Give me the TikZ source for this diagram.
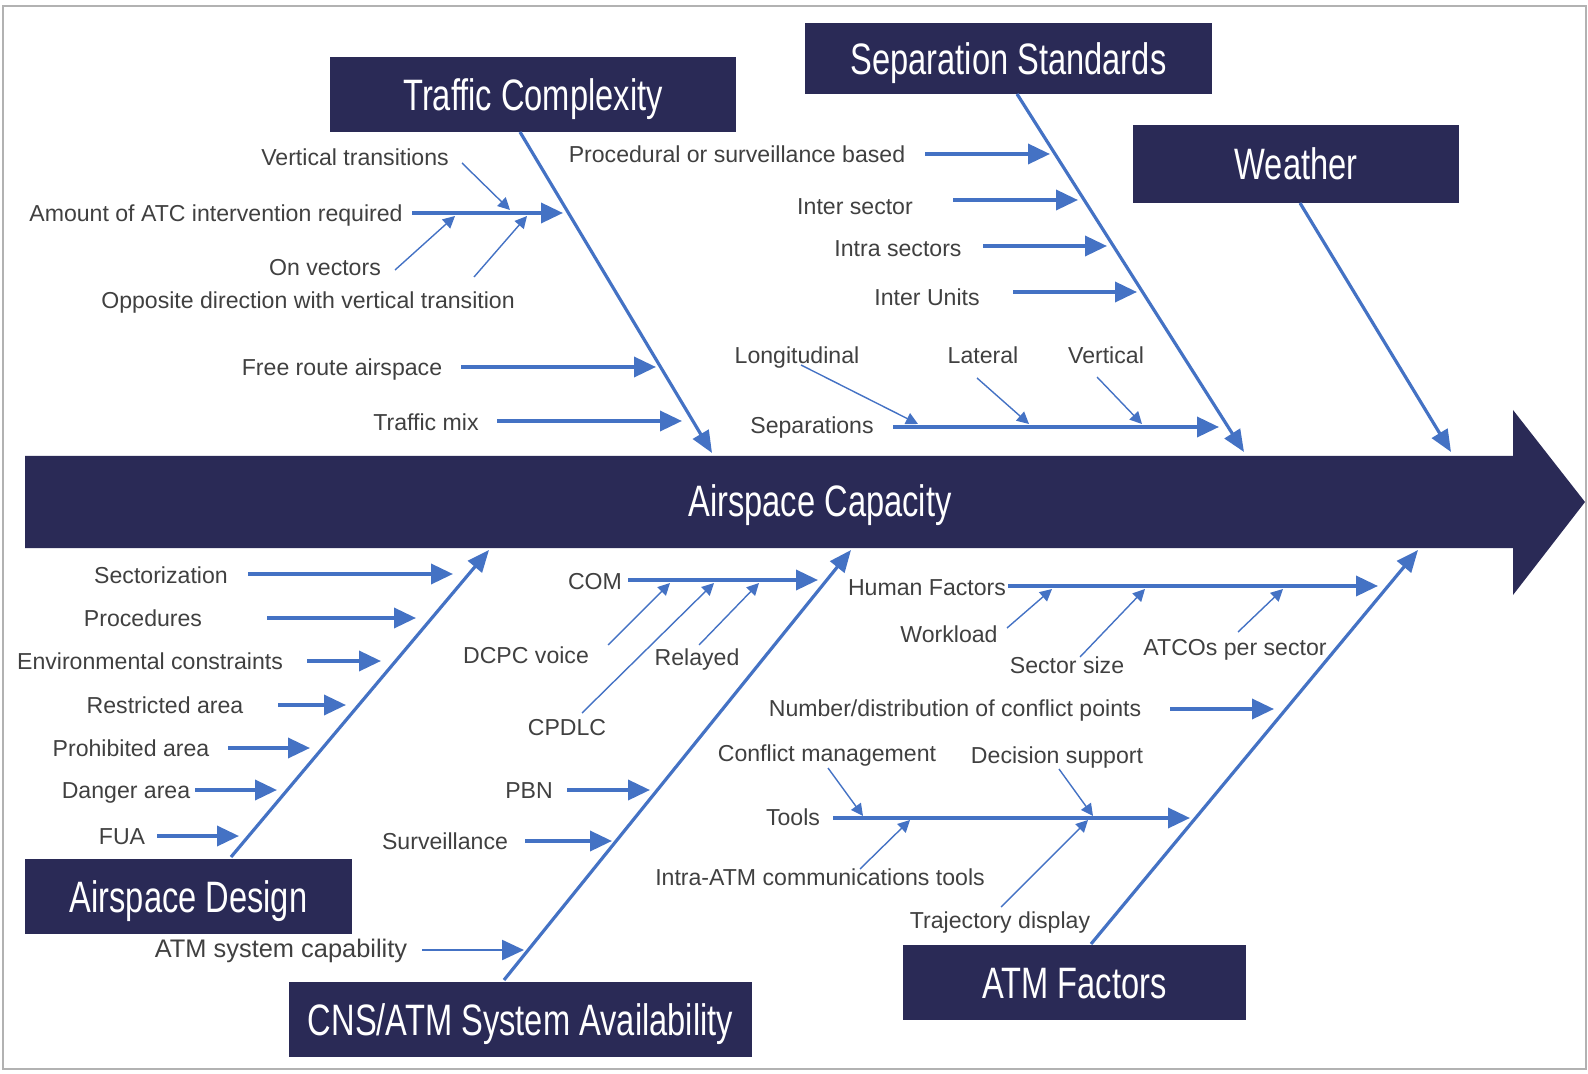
\documentclass[tikz,border=0pt]{standalone}
\usepackage{fontspec}
\setmainfont{Liberation Sans}
\newfontfamily\titlefont[FakeStretch=0.742]{Liberation Sans}
\usetikzlibrary{arrows.meta}
\definecolor{navy}{RGB}{42,42,86}
\definecolor{fishblue}{RGB}{68,114,196}
\definecolor{lblgray}{RGB}{64,64,64}
\begin{document}
\begin{tikzpicture}[x=0.5pt,y=-0.5pt,
  lbl/.style={font=\fontsize{11.55}{13}\selectfont, text=lblgray, inner sep=0pt, text height=8.2pt, text depth=0pt},
  ttl/.style={fill=navy, text=white, font=\titlefont\fontsize{22}{24}\selectfont, inner sep=0pt, text height=15.7pt, text depth=0pt},
  ttltext/.style={text=white, font=\titlefont\fontsize{22}{24}\selectfont, inner sep=0pt, text height=15.7pt, text depth=0pt},
  bone/.style={draw=fishblue, line width=1.6pt, -{Triangle[length=11pt,width=9pt]}},
  thk/.style={draw=fishblue, line width=1.8pt, -{Triangle[length=11pt,width=10pt]}},
  thn/.style={draw=fishblue, line width=0.7pt, -{Triangle[length=6pt,width=6pt]}},
]
\useasboundingbox (0,0) rectangle (1588,1074);
\draw[gray!60, line width=1pt] (3,6) rectangle (1586,1069);

% main arrow
\fill[navy] (25,456) -- (1513,456) -- (1513,410) -- (1585,502) -- (1513,595) -- (1513,548) -- (25,548) -- cycle;
\node[ttltext] (cap) at (820,501) {Airspace Capacity};

% category boxes
\node[ttl, minimum width=203pt, minimum height=37.5pt] (tc) at (533,94.5) {Traffic Complexity};
\node[ttl, minimum width=203.5pt, minimum height=35.5pt] (ss) at (1008.5,58.5) {Separation Standards};
\node[ttl, minimum width=163pt, minimum height=39pt] (wx) at (1296,164) {Weather};
\node[ttl, minimum width=163.5pt, minimum height=37.5pt] (ad) at (188.5,896.5) {Airspace Design};
\node[ttl, minimum width=231.5pt, minimum height=37.5pt] (cns) at (520.5,1019.5) {CNS/ATM System Availability};
\node[ttl, minimum width=171.5pt, minimum height=37.5pt] (atm) at (1074.5,982.5) {ATM Factors};

% labels - top
\node[lbl] (vt) at (355,157) {Vertical transitions};
\node[lbl] (amt) at (216,213) {Amount of ATC intervention required};
\node[lbl] (onv) at (325,267) {On vectors};
\node[lbl] (opp) at (308,300) {Opposite direction with vertical transition};
\node[lbl] (fra) at (342,367) {Free route airspace};
\node[lbl] (mix) at (426,422) {Traffic mix};
\node[lbl] (psb) at (737,154) {Procedural or surveillance based};
\node[lbl] (isec) at (855,206) {Inter sector};
\node[lbl] (intra) at (898,248) {Intra sectors};
\node[lbl] (iu) at (927,297) {Inter Units};
\node[lbl] (lon) at (797,355) {Longitudinal};
\node[lbl] (lat) at (983,355) {Lateral};
\node[lbl] (ver) at (1106,355) {Vertical};
\node[lbl] (sep) at (812,425) {Separations};
% labels - bottom
\node[lbl] (sect) at (161,575) {Sectorization};
\node[lbl] (proc) at (143,618) {Procedures};
\node[lbl] (env) at (150,661) {Environmental constraints};
\node[lbl] (restr) at (165,705) {Restricted area};
\node[lbl] (proh) at (131,748) {Prohibited area};
\node[lbl] (dang) at (126,790) {Danger area};
\node[lbl] (fua) at (122,836) {FUA};
\node[lbl] (com) at (595,581) {COM};
\node[lbl] (dcpc) at (526,655) {DCPC voice};
\node[lbl] (cpdlc) at (567,727) {CPDLC};
\node[lbl] (rel) at (697,657) {Relayed};
\node[lbl] (pbn) at (529,790) {PBN};
\node[lbl] (surv) at (445,841) {Surveillance};
\node[lbl, font=\fontsize{12.7}{14}\selectfont, text height=9pt] (atmsys) at (281,948) {ATM system capability};
\node[lbl] (hf) at (927,587) {Human Factors};
\node[lbl] (wl) at (949,634) {Workload};
\node[lbl] (ssz) at (1067,665) {Sector size};
\node[lbl] (atco) at (1235,647) {ATCOs per sector};
\node[lbl] (ndc) at (955,708) {Number/distribution of conflict points};
\node[lbl] (cm) at (827,753) {Conflict management};
\node[lbl] (ds) at (1057,755) {Decision support};
\node[lbl] (tools) at (793,817) {Tools};
\node[lbl] (iatm) at (820,877) {Intra-ATM communications tools};
\node[lbl] (traj) at (1000,920) {Trajectory display};

% coordinates - bones
\coordinate (tcS) at (520,132);  \coordinate (tcE) at (712,453);
\coordinate (ssS) at (1017,94);  \coordinate (ssE) at (1244,452);
\coordinate (wxS) at (1300,203); \coordinate (wxE) at (1451,452);
\coordinate (adS) at (231,857);  \coordinate (adE) at (489,550);
\coordinate (cnsS) at (504,980); \coordinate (cnsE) at (851,550);
\coordinate (atmS) at (1091,944); \coordinate (atmE) at (1418,550);

\draw[bone] (tcS) -- (tcE);
\draw[bone] (ssS) -- (ssE);
\draw[bone] (wxS) -- (wxE);
\draw[bone] (adS) -- (adE);
\draw[bone] (cnsS) -- (cnsE);
\draw[bone] (atmS) -- (atmE);

% traffic complexity
\coordinate (a1) at (412,213); \coordinate (b1) at (563,213);
\coordinate (a2) at (461,367); \coordinate (b2) at (656,367);
\coordinate (a3) at (497,421); \coordinate (b3) at (682,421);
\draw[thk] (a1) -- (b1);
\draw[thk] (a2) -- (b2);
\draw[thk] (a3) -- (b3);
\coordinate (t1a) at (462,163); \coordinate (t1b) at (510,210);
\coordinate (t2a) at (395,270); \coordinate (t2b) at (455,216);
\coordinate (t3a) at (474,277); \coordinate (t3b) at (527,216);
\draw[thn] (t1a) -- (t1b);
\draw[thn] (t2a) -- (t2b);
\draw[thn] (t3a) -- (t3b);

% separation standards
\coordinate (a4) at (925,154); \coordinate (b4) at (1050,154);
\coordinate (a5) at (953,200); \coordinate (b5) at (1078,200);
\coordinate (a6) at (983,246); \coordinate (b6) at (1107,246);
\coordinate (a7) at (1013,292); \coordinate (b7) at (1137,292);
\coordinate (a8) at (893,427); \coordinate (b8) at (1219,427);
\draw[thk] (a4) -- (b4);
\draw[thk] (a5) -- (b5);
\draw[thk] (a6) -- (b6);
\draw[thk] (a7) -- (b7);
\draw[thk] (a8) -- (b8);
\coordinate (t4a) at (801,365); \coordinate (t4b) at (918,424);
\coordinate (t5a) at (977,378); \coordinate (t5b) at (1029,424);
\coordinate (t6a) at (1097,377); \coordinate (t6b) at (1142,424);
\draw[thn] (t4a) -- (t4b);
\draw[thn] (t5a) -- (t5b);
\draw[thn] (t6a) -- (t6b);

% airspace design
\coordinate (a9) at (248,574); \coordinate (b9) at (453,574);
\coordinate (a10) at (267,618); \coordinate (b10) at (416,618);
\coordinate (a11) at (307,661); \coordinate (b11) at (381,661);
\coordinate (a12) at (278,705); \coordinate (b12) at (346,705);
\coordinate (a13) at (228,748); \coordinate (b13) at (310,748);
\coordinate (a14) at (195,790); \coordinate (b14) at (277,790);
\coordinate (a15) at (157,836); \coordinate (b15) at (239,836);
\draw[thk] (a9) -- (b9);
\draw[thk] (a10) -- (b10);
\draw[thk] (a11) -- (b11);
\draw[thk] (a12) -- (b12);
\draw[thk] (a13) -- (b13);
\draw[thk] (a14) -- (b14);
\draw[thk] (a15) -- (b15);

% CNS/ATM
\coordinate (a16) at (628,580); \coordinate (b16) at (818,580);
\coordinate (a17) at (567,790); \coordinate (b17) at (650,790);
\coordinate (a18) at (525,841); \coordinate (b18) at (612,841);
\coordinate (a19) at (422,950); \coordinate (b19) at (524,950);
\draw[thk] (a16) -- (b16);
\draw[thk] (a17) -- (b17);
\draw[thk] (a18) -- (b18);
\draw[thk, line width=1.2pt] (a19) -- (b19);
\coordinate (t7a) at (608,645); \coordinate (t7b) at (670,583);
\coordinate (t8a) at (582,713); \coordinate (t8b) at (714,583);
\coordinate (t9a) at (699,645); \coordinate (t9b) at (759,583);
\draw[thn] (t7a) -- (t7b);
\draw[thn] (t8a) -- (t8b);
\draw[thn] (t9a) -- (t9b);

% ATM factors
\coordinate (a20) at (1008,586); \coordinate (b20) at (1378,586);
\coordinate (a21) at (1170,709); \coordinate (b21) at (1274,709);
\coordinate (a22) at (833,818); \coordinate (b22) at (1190,818);
\draw[thk] (a20) -- (b20);
\draw[thk] (a21) -- (b21);
\draw[thk] (a22) -- (b22);
\coordinate (t10a) at (1007,628); \coordinate (t10b) at (1052,589);
\coordinate (t11a) at (1080,657); \coordinate (t11b) at (1145,589);
\coordinate (t12a) at (1238,632); \coordinate (t12b) at (1283,589);
\coordinate (t13a) at (828,768); \coordinate (t13b) at (863,816);
\coordinate (t14a) at (1059,769); \coordinate (t14b) at (1093,816);
\coordinate (t15a) at (860,869); \coordinate (t15b) at (910,820);
\coordinate (t16a) at (1001,907); \coordinate (t16b) at (1088,820);
\draw[thn] (t10a) -- (t10b);
\draw[thn] (t11a) -- (t11b);
\draw[thn] (t12a) -- (t12b);
\draw[thn] (t13a) -- (t13b);
\draw[thn] (t14a) -- (t14b);
\draw[thn] (t15a) -- (t15b);
\draw[thn] (t16a) -- (t16b);
\end{tikzpicture}
\end{document}
